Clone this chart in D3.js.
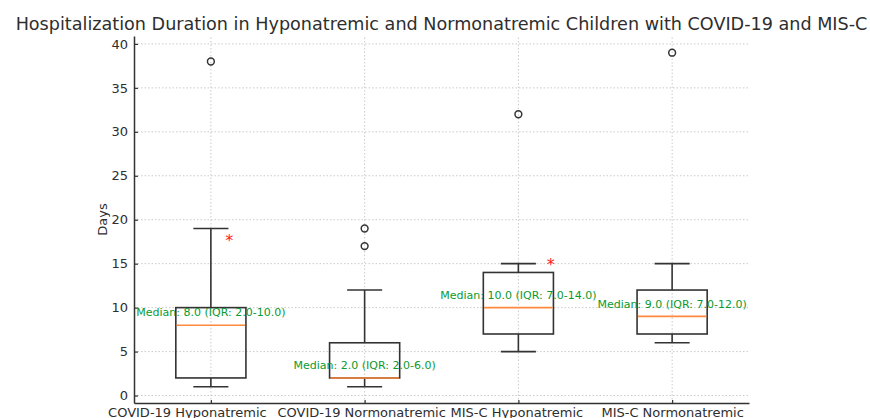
<!DOCTYPE html>
<html>
<head>
<meta charset="utf-8">
<script src="https://cdn.jsdelivr.net/npm/d3@7"></script>
<style>
  body { margin: 0; background: #fff; }
  text { font-family: "DejaVu Sans", sans-serif; fill: #2e2e2e; }
</style>
</head>
<body>
<div id="chart"></div>
<script>
// data
const categories = ["COVID-19 Hyponatremic", "COVID-19 Normonatremic", "MIS-C Hyponatremic", "MIS-C Normonatremic"];
const whiskerLow = [1, 1, 5, 6];
const q1 = [2, 2, 7, 7];
const medians = [8, 2, 10, 9];
const q3 = [10, 6, 14, 12];
const whiskerHigh = [19, 12, 15, 15];
const outliers = [[38], [17, 19], [32], [39]];
const medianLabels = ["Median: 8.0 (IQR: 2.0-10.0)", "Median: 2.0 (IQR: 2.0-6.0)", "Median: 10.0 (IQR: 7.0-14.0)", "Median: 9.0 (IQR: 7.0-12.0)"];
// significance stars: category index, x offset (in category units), y value
const stars = [{ i: 0, dx: 0.12, y: 17.7 }, { i: 2, dx: 0.21, y: 14.95 }];
const yTicks = [0, 5, 10, 15, 20, 25, 30, 35, 40];

const width = 870, height = 418;
const margin = { top: 36, right: 121, bottom: 15, left: 134 };

const svg = d3.select("#chart").append("svg")
  .attr("width", width)
  .attr("height", height);

const x = d3.scaleLinear()
  .domain([0.5, categories.length + 0.5])
  .range([margin.left, width - margin.right]);

const y = d3.scaleLinear()
  .domain([-0.85, 40.9])
  .range([height - margin.bottom, margin.top]);

const boxW = x(1.456) - x(1);
const capW = boxW / 2;
const stroke = "#333";
const lw = 1.6;

// grid
const grid = svg.append("g").attr("stroke", "#c4c4c4").attr("stroke-width", 0.9).attr("stroke-dasharray", "1.5,2");
grid.selectAll(".gy").data(yTicks).enter().append("line")
  .attr("x1", x.range()[0]).attr("x2", x.range()[1])
  .attr("y1", d => y(d)).attr("y2", d => y(d));
grid.selectAll(".gx").data(categories).enter().append("line")
  .attr("x1", (d, i) => x(i + 1)).attr("x2", (d, i) => x(i + 1))
  .attr("y1", y.range()[0]).attr("y2", y.range()[1]);

// axes (ticks point inward, like the source)
const yAxis = svg.append("g")
  .attr("transform", "translate(" + margin.left + ",0)")
  .call(d3.axisLeft(y).tickValues(yTicks).tickSizeInner(-4).tickSizeOuter(0).tickPadding(6));
const xAxis = svg.append("g")
  .attr("transform", "translate(0," + (height - margin.bottom) + ")")
  .call(d3.axisBottom(x).tickValues(categories.map((d, i) => i + 1))
    .tickFormat((d, i) => categories[i]).tickSizeInner(-3).tickSizeOuter(0).tickPadding(5));
[yAxis, xAxis].forEach(a => {
  a.select(".domain").attr("stroke", stroke).attr("stroke-width", 1.5);
  a.selectAll(".tick line").attr("stroke", stroke).attr("stroke-width", 1.2);
  a.selectAll("text").attr("font-size", 13).attr("fill", "#2e2e2e").attr("font-family", "DejaVu Sans");
});
// the long labels crowd each other; the first one sits further left in the source
const labelShift = [-24, -3.5, -2, 0];
xAxis.selectAll(".tick text").attr("dx", (d, i) => labelShift[i]);

// boxes
const boxes = svg.selectAll(".box").data(categories).enter().append("g").attr("class", "box");
boxes.append("line")
  .attr("x1", (d, i) => x(i + 1)).attr("x2", (d, i) => x(i + 1))
  .attr("y1", (d, i) => y(whiskerLow[i])).attr("y2", (d, i) => y(q1[i]))
  .attr("stroke", stroke).attr("stroke-width", lw);
boxes.append("line")
  .attr("x1", (d, i) => x(i + 1)).attr("x2", (d, i) => x(i + 1))
  .attr("y1", (d, i) => y(q3[i])).attr("y2", (d, i) => y(whiskerHigh[i]))
  .attr("stroke", stroke).attr("stroke-width", lw);
[whiskerLow, whiskerHigh].forEach(arr => {
  boxes.append("line")
    .attr("x1", (d, i) => x(i + 1) - capW / 2).attr("x2", (d, i) => x(i + 1) + capW / 2)
    .attr("y1", (d, i) => y(arr[i])).attr("y2", (d, i) => y(arr[i]))
    .attr("stroke", stroke).attr("stroke-width", lw);
});
boxes.append("rect")
  .attr("x", (d, i) => x(i + 1) - boxW / 2)
  .attr("width", boxW)
  .attr("y", (d, i) => y(q3[i]))
  .attr("height", (d, i) => y(q1[i]) - y(q3[i]))
  .attr("fill", "none").attr("stroke", stroke).attr("stroke-width", lw);
boxes.append("line")
  .attr("x1", (d, i) => x(i + 1) - boxW / 2 + 0.8).attr("x2", (d, i) => x(i + 1) + boxW / 2 - 0.8)
  .attr("y1", (d, i) => y(medians[i])).attr("y2", (d, i) => y(medians[i]))
  .attr("stroke", "#ff8a3d").attr("stroke-width", 1.6);

// outliers
const fl = [];
outliers.forEach((arr, i) => arr.forEach(v => fl.push({ i: i, v: v })));
svg.selectAll(".flier").data(fl).enter().append("circle")
  .attr("cx", d => x(d.i + 1)).attr("cy", d => y(d.v)).attr("r", 3.4)
  .attr("fill", "none").attr("stroke", stroke).attr("stroke-width", 1.5);

// median labels
svg.selectAll(".mlab").data(medianLabels).enter().append("text")
  .attr("x", (d, i) => x(i + 1))
  .attr("y", (d, i) => y(medians[i] + 1.4))
  .attr("text-anchor", "middle")
  .attr("dominant-baseline", "central")
  .attr("font-size", 11)
  .style("fill", "#0a9a2e")
  .text(d => d);

// stars
svg.selectAll(".star").data(stars).enter().append("text")
  .attr("x", d => x(d.i + 1 + d.dx))
  .attr("y", d => y(d.y) + 6)
  .attr("text-anchor", "middle")
  .attr("font-size", 16)
  .style("fill", "#ff2020")
  .text("*");

// title & y label
svg.append("text")
  .attr("x", (x.range()[0] + x.range()[1]) / 2)
  .attr("y", 30)
  .attr("text-anchor", "middle")
  .attr("font-size", 17.6)
  .text("Hospitalization Duration in Hyponatremic and Normonatremic Children with COVID-19 and MIS-C");

svg.append("text")
  .attr("transform", "translate(107," + ((y.range()[0] + y.range()[1]) / 2) + ") rotate(-90)")
  .attr("text-anchor", "middle")
  .attr("font-size", 13)
  .text("Days");
</script>
</body>
</html>
